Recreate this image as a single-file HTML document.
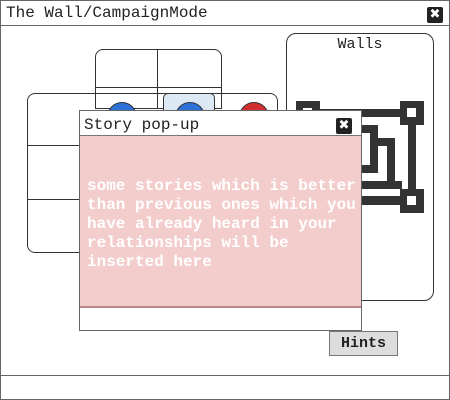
<!DOCTYPE html>
<html><head><style>
body{margin:0;width:450px;height:400px;position:relative;background:#fff;font-family:"Liberation Mono",monospace;overflow:hidden}
.a{position:absolute;box-sizing:border-box}
.x{position:absolute;width:16px;height:16px;background:#222;color:#fff;font:bold 13px/16px "DejaVu Sans",sans-serif;text-align:center;border-radius:2px}
</style></head><body>
<div class="a" style="left:0;top:0;width:450px;height:400px;border:1px solid #666"></div>
<div class="a" style="left:0;top:25px;width:450px;height:1px;background:#666"></div>
<div class="a" style="left:6px;top:4px;font-size:16px;color:#222">The Wall/CampaignMode</div>
<div class="x" style="left:427px;top:7px">✖</div>
<div class="a" style="left:0;top:375px;width:450px;height:1px;background:#666"></div>

<!-- grid -->
<div class="a" style="left:95px;top:49px;width:127px;height:60px;border:1px solid #333;border-radius:8px 8px 0 0"></div>
<div class="a" style="left:157px;top:49px;width:1px;height:60px;background:#333"></div>
<div class="a" style="left:95px;top:87px;width:127px;height:1px;background:#333"></div>
<div class="a" style="left:27px;top:93px;width:251px;height:160px;border:1px solid #333;border-radius:8px"></div>
<div class="a" style="left:27px;top:145px;width:60px;height:1px;background:#333"></div>
<div class="a" style="left:27px;top:199px;width:60px;height:1px;background:#333"></div>
<div class="a" style="left:163px;top:93px;width:52px;height:30px;background:#dce8f4;border:1px solid #333;border-radius:5px"></div>
<div class="a" style="left:107px;top:102px;width:30px;height:30px;border-radius:50%;background:#2e72d8;border:1px solid #333"></div>
<div class="a" style="left:175px;top:102px;width:30px;height:30px;border-radius:50%;background:#2e72d8;border:1px solid #333"></div>
<div class="a" style="left:239px;top:102px;width:30px;height:30px;border-radius:50%;background:#d03030;border:1px solid #333"></div>

<!-- walls -->
<div class="a" style="left:286px;top:33px;width:148px;height:268px;border:1px solid #333;border-radius:10px"></div>
<div class="a" style="left:286px;top:36px;width:148px;text-align:center;font-size:15px;color:#222">Walls</div>
<svg class="a" style="left:0;top:0" width="450" height="400">
<g fill="#333">
<rect x="296" y="101" width="24" height="24"/><rect x="400" y="101" width="24" height="24"/>
<rect x="296" y="189" width="24" height="24"/><rect x="400" y="189" width="24" height="24"/>
<rect x="296" y="109" width="110" height="8"/>
<rect x="408" y="120" width="8" height="75"/>
<rect x="296" y="196" width="110" height="9"/>
<rect x="296" y="181" width="106" height="8"/>
<rect x="300" y="120" width="8" height="75"/>
<rect x="358" y="125" width="20" height="8"/>
<rect x="370" y="125" width="8" height="48"/>
<rect x="358" y="165" width="20" height="8"/>
<rect x="376" y="138" width="19" height="8"/>
<rect x="387" y="138" width="8" height="45"/>
</g>
<g fill="#fff"><rect x="407" y="108" width="9" height="9"/><rect x="407" y="196" width="9" height="9"/><rect x="303" y="108" width="9" height="9"/></g>
</svg>

<!-- popup -->
<div class="a" style="left:79px;top:110px;width:283px;height:221px;border:1px solid #666;background:#fff"></div>
<div class="a" style="left:84px;top:116px;font-size:16px;color:#222">Story pop-up</div>
<div class="x" style="left:336px;top:118px">✖</div>
<div class="a" style="left:80px;top:135px;width:281px;height:173px;background:#f3cccc;border-top:1px solid #777;border-bottom:2px solid #b88"></div>
<div class="a" style="left:87px;top:177px;width:275px;font-size:16px;line-height:19px;color:#fff;font-weight:bold;white-space:nowrap">some stories which is better<br>than previous ones which you<br>have already heard in your<br>relationships will be<br>inserted here</div>

<div class="a" style="left:329px;top:331px;width:69px;height:25px;background:#ddd;border:1px solid #777;text-align:center;font-size:15px;line-height:23px;color:#222;font-weight:bold">Hints</div>
</body></html>
